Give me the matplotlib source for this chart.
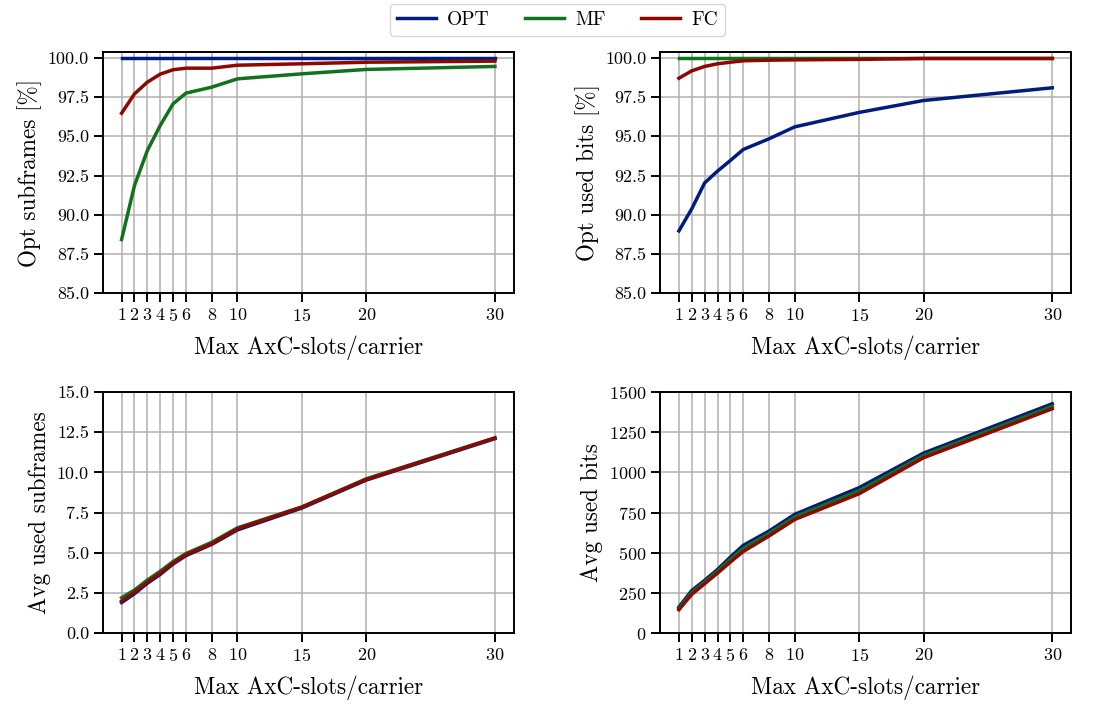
import matplotlib
matplotlib.use("Agg")
import matplotlib.pyplot as plt

plt.rcParams['font.family'] = 'serif'
plt.rcParams['font.serif'] = ['cmr10', 'DejaVu Serif']
plt.rcParams['mathtext.fontset'] = 'cm'
plt.rcParams['axes.formatter.use_mathtext'] = True

# max AxC-slots per carrier
slots = [1, 2, 3, 4, 5, 6, 8, 10, 15, 20, 30]
methods = ['OPT', 'MF', 'FC']
colors = {'OPT': '#001c7f', 'MF': '#12711c', 'FC': '#8c0800'}

# optimal subframes [%]
opt_sf = {
    'OPT': [100, 100, 100, 100, 100, 100, 100, 100, 100, 100, 100],
    'MF': [88.42, 91.86, 94.09, 95.69, 97.07, 97.75, 98.13, 98.66, 98.98, 99.26, 99.45],
    'FC': [96.47, 97.70, 98.45, 98.96, 99.24, 99.34, 99.34, 99.53, 99.62, 99.72, 99.79],
}
# optimal used bits [%]
opt_bits = {
    'OPT': [88.97, 90.38, 92.03, 92.78, 93.46, 94.16, 94.84, 95.60, 96.52, 97.28, 98.09],
    'MF': [100, 100, 100, 100, 100, 100, 100, 100, 100, 100, 100],
    'FC': [98.70, 99.17, 99.45, 99.62, 99.72, 99.81, 99.85, 99.87, 99.90, 99.96, 99.96],
}
# average used subframes
avg_sf = {
    'OPT': [1.90, 2.45, 3.10, 3.65, 4.30, 4.82, 5.52, 6.42, 7.78, 9.52, 12.10],
    'MF': [2.20, 2.68, 3.30, 3.85, 4.45, 4.95, 5.65, 6.55, 7.85, 9.60, 12.15],
    'FC': [1.99, 2.55, 3.17, 3.73, 4.36, 4.88, 5.56, 6.49, 7.84, 9.56, 12.14],
}
# average used bits
avg_bits = {
    'OPT': [162, 265, 328, 396, 473, 546, 635, 739, 905, 1120, 1427],
    'MF': [153, 253, 318, 385, 458, 527, 620, 723, 886, 1105, 1411],
    'FC': [145, 241, 307, 373, 442, 508, 604, 707, 867, 1091, 1396],
}

fig, axs = plt.subplots(2, 2, figsize=(10.95, 7.05), dpi=100)
fig.subplots_adjust(left=0.094, right=0.978, top=0.926, bottom=0.102, wspace=0.357, hspace=0.41)

panels = [
    (axs[0, 0], opt_sf, 'Opt subframes [%]', (85, 100.36)),
    (axs[0, 1], opt_bits, 'Opt used bits [%]', (85, 100.36)),
    (axs[1, 0], avg_sf, 'Avg used subframes', (0, 15)),
    (axs[1, 1], avg_bits, 'Avg used bits', (0, 1500)),
]

for ax, data, ylabel, ylim in panels:
    for m in methods:
        ax.plot(slots, data[m], color=colors[m], lw=2.5, label=m)
    ax.set_xticks(slots)
    ax.set_ylim(*ylim)
    ax.set_xlabel('Max AxC-slots/carrier', fontsize=16.7, labelpad=8.5)
    ax.set_ylabel(ylabel, fontsize=16.7)
    ax.grid(True, color='#b0b0b0', lw=1.1)
    ax.tick_params(labelsize=13, length=6.5, width=1.4)
    for s in ax.spines.values():
        s.set_linewidth(1.4)

axs[0, 0].set_yticks([85, 87.5, 90, 92.5, 95, 97.5, 100])
axs[0, 1].set_yticks([85, 87.5, 90, 92.5, 95, 97.5, 100])
axs[0, 0].yaxis.set_major_formatter(matplotlib.ticker.FormatStrFormatter('%.1f'))
axs[0, 1].yaxis.set_major_formatter(matplotlib.ticker.FormatStrFormatter('%.1f'))
axs[1, 0].set_yticks([0, 2.5, 5, 7.5, 10, 12.5, 15])
axs[1, 0].yaxis.set_major_formatter(matplotlib.ticker.FormatStrFormatter('%.1f'))
axs[1, 1].set_yticks([0, 250, 500, 750, 1000, 1250, 1500])

handles, labels = axs[0, 0].get_legend_handles_labels()
fig.legend(handles, labels, loc='upper center', bbox_to_anchor=(0.509, 1.008), ncol=3,
           fontsize=14, handlelength=2.0, handletextpad=0.6, columnspacing=1.8, borderpad=0.35)

fig.savefig('out.png')
